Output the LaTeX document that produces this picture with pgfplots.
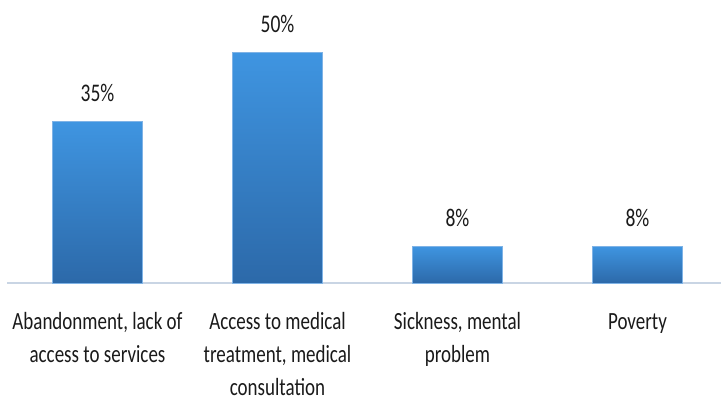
\documentclass[border=0pt]{standalone}
\usepackage{pgfplots}
\pgfplotsset{compat=1.18}
\usepackage{fontspec}
\setmainfont{Carlito}
\usepackage{graphicx}

\definecolor{bartop}{HTML}{3F95E1}
\definecolor{barbot}{HTML}{2C69A9}
\definecolor{baredge}{HTML}{7FB3E6}
\definecolor{baseline}{HTML}{C9D5E4}
\definecolor{labeltext}{HTML}{1A1A1A}

% tall, narrow lettering for the labels
\newcommand\tall[1]{\scalebox{1}[1.3]{#1}}
\newcommand\lbl[1]{\tall{\fontsize{19}{25.4}\selectfont\begin{tabular}{@{}c@{}}#1\end{tabular}}}

\pgfplotsset{
  gradbar/.style={ybar, bar width=90pt, bar shift=0pt, mark=none,
    draw=baredge, line width=0.4pt, top color=bartop, bottom color=barbot},
}

\begin{document}
\begin{tikzpicture}
\useasboundingbox (0,0) rectangle (721pt,402pt);
\begin{axis}[
  at={(7pt,119pt)}, anchor=south west,
  scale only axis, width=714pt, height=231pt,
  xmin=-0.5028, xmax=3.464, ymin=0, ymax=50,
  clip=false,
  axis x line*=bottom, axis y line=none,
  x axis line style={draw=baseline, line width=1.2pt, -},
  xtick={0,1,2,3},
  xtick style={draw=none},
  ytick=\empty,
  xticklabels={
    {\lbl{Abandonment, lack of\\access to services}},
    {\lbl{Access to medical\\treatment, medical\\consultation}},
    {\lbl{Sickness, mental\\problem}},
    {\lbl{Poverty}}},
  xticklabel style={anchor=north, yshift=-23pt, inner sep=0pt, text=labeltext},
  /pgf/number format/assume math mode=true,
  nodes near coords={\tall{\fontsize{19.5}{22}\selectfont\pgfmathprintnumber{\pgfplotspointmeta}\%}},
  nodes near coords style={anchor=south, yshift=19pt, inner sep=0pt, text=labeltext},
]
% one plot per bar so that each bar carries its own gradient
\addplot[gradbar] coordinates {(0,35)};
\addplot[gradbar] coordinates {(1,50)};
\addplot[gradbar] coordinates {(2,8)};
\addplot[gradbar] coordinates {(3,8)};
\end{axis}
\end{tikzpicture}
\end{document}
